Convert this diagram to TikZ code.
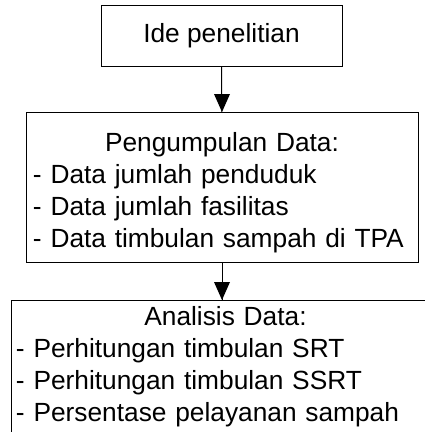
\documentclass[tikz,border=0pt]{standalone}
\usepackage{fontspec}
\setmainfont{Liberation Sans}
\usetikzlibrary{arrows.meta,positioning}
\definecolor{FlowLine}{HTML}{000000}

\begin{document}
\begin{tikzpicture}[x=1pt,y=1pt,
  stepbox/.style={draw=FlowLine,line width=0.9pt,inner sep=0pt,anchor=north,font=\fontsize{26.3}{32}\selectfont},
  flowarrow/.style={draw=FlowLine,line width=0.9pt},
  flowtip/.style={fill=FlowLine}]
  \useasboundingbox (0,-432) rectangle (425,0);
  \clip (0,-432) rectangle (425,0);
  % alur penelitian
  \node[stepbox,minimum width=241pt,text height=37.5pt,text depth=23.5pt] (ide) at (221.5,-5) {Ide penelitian};
  \node[stepbox,text width=378pt,inner xsep=7pt,text height=39.5pt,text depth=110.5pt,align=left] (kumpul) at (222,-112)
    {\makebox[\linewidth]{Pengumpulan Data:}\\
     - Data jumlah penduduk\\
     - Data jumlah fasilitas\\
     - Data timbulan sampah di TPA};
  \node[stepbox,text width=419pt,inner xsep=5pt,text height=25pt,text depth=140pt,align=left] (analisis) at (225.5,-300)
    {\makebox[\linewidth]{Analisis Data:}\\
     - Perhitungan timbulan SRT\\
     - Perhitungan timbulan SSRT\\
     - Persentase pelayanan sampah};
  \coordinate (masuk) at (kumpul.south |- analisis.north);
  % panah
  \draw[flowarrow] (ide) -- (kumpul);
  \fill[flowtip] (kumpul.north) -- ++(-8,18) -- ++(16,0) -- cycle;
  \draw[flowarrow] (kumpul.south) -- (masuk);
  \fill[flowtip] (masuk) -- ++(-8,18) -- ++(16,0) -- cycle;
\end{tikzpicture}
\end{document}
